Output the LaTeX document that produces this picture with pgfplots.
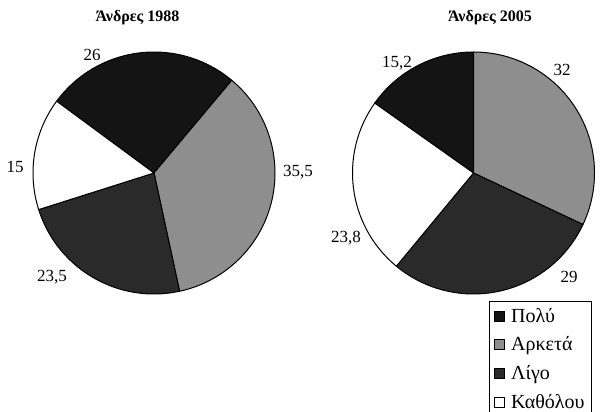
\documentclass[border=0pt]{standalone}
\usepackage{pgfplots}
\pgfplotsset{compat=1.18}
\usepackage{pgfplotstable}
\usepackage{fontspec}
\setmainfont{Liberation Serif}

\definecolor{polu}{HTML}{141414}
\definecolor{arketa}{HTML}{8E8E8E}
\definecolor{ligo}{HTML}{2A2A2A}
\definecolor{katholou}{HTML}{FFFFFF}

% Men 1988
\pgfplotstableread{
cat value
Polu 26
Arketa 35.5
Ligo 23.5
Katholou 15
}\tableA
% Men 2005
\pgfplotstableread{
cat value
Polu 15.2
Arketa 32
Ligo 29
Katholou 23.8
}\tableB

\newcommand\R{121pt}
\newcommand\slice[3]{\filldraw[fill=#3,draw=black,line width=1pt,line join=round]
  (axis cs:0,0) -- (axis cs:{cos(#1)},{sin(#1)}) arc[start angle=#1,end angle=#2,radius=\R] -- cycle;}
\newcommand\pieangles[2]{%
  \pgfplotstablegetelem{0}{value}\of#1\let\va\pgfplotsretval
  \pgfplotstablegetelem{1}{value}\of#1\let\vb\pgfplotsretval
  \pgfplotstablegetelem{2}{value}\of#1\let\vc\pgfplotsretval
  \pgfplotstablegetelem{3}{value}\of#1\let\vd\pgfplotsretval
  \pgfmathsetmacro\aA{#2}
  \pgfmathsetmacro\aB{\aA-3.6*\va}
  \pgfmathsetmacro\aC{\aB-3.6*\vb}
  \pgfmathsetmacro\aD{\aC-3.6*\vc}
  \pgfmathsetmacro\aE{\aD-3.6*\vd}}
\pgfplotsset{pie/.style={anchor=origin,x=\R,y=\R,xmin=-1.3,xmax=1.3,ymin=-1.3,ymax=1.3,hide axis,clip=false}}

\begin{document}
\begin{tikzpicture}[x=1pt,y=1pt]
\useasboundingbox (0pt,0pt) rectangle (602pt,412pt);

\pieangles{\tableA}{143.6}
\begin{axis}[pie, at={(154pt,239pt)}]
\slice{\aA}{\aB}{polu}
\slice{\aB}{\aC}{arketa}
\slice{\aC}{\aD}{ligo}
\slice{\aD}{\aE}{katholou}
\end{axis}

\pieangles{\tableB}{144.72}
\begin{axis}[pie, at={(473.5pt,239pt)},
  legend image code/.code={\draw[#1,draw=black,line width=0.6pt] (0pt,-5pt) rectangle (10pt,5pt); \path (14pt,0pt);},
  legend style={at={(0.549,0.094)}, anchor=north west, draw=black, line width=1pt,
    font=\fontsize{20}{22}\selectfont, row sep=9pt, inner xsep=5pt, inner ysep=5pt,
    cells={anchor=west}}]
\slice{\aA}{\aB}{polu}
\slice{\aB}{\aC}{arketa}
\slice{\aC}{\aD}{ligo}
\slice{\aD}{\aE}{katholou}
\addlegendimage{fill=polu}\addlegendentry{Πολύ}
\addlegendimage{fill=arketa}\addlegendentry{Αρκετά}
\addlegendimage{fill=ligo}\addlegendentry{Λίγο}
\addlegendimage{fill=katholou}\addlegendentry{Καθόλου}
\end{axis}

\node[font=\bfseries\fontsize{16}{18}\selectfont] at (137.5pt,394pt) {Άνδρες 1988};
\node[font=\bfseries\fontsize{16}{18}\selectfont] at (490pt,394pt) {Άνδρες 2005};

\begin{scope}[every node/.style={font=\fontsize{17}{19}\selectfont, inner sep=0pt}]
\node at (92pt,357pt) {26};
\node at (298pt,240pt) {35,5};
\node at (15pt,245pt) {15};
\node at (52pt,135pt) {23,5};
\node at (397pt,349pt) {15,2};
\node at (562pt,342pt) {32};
\node at (346pt,174pt) {23,8};
\node at (569pt,135pt) {29};
\end{scope}
\end{tikzpicture}
\end{document}
